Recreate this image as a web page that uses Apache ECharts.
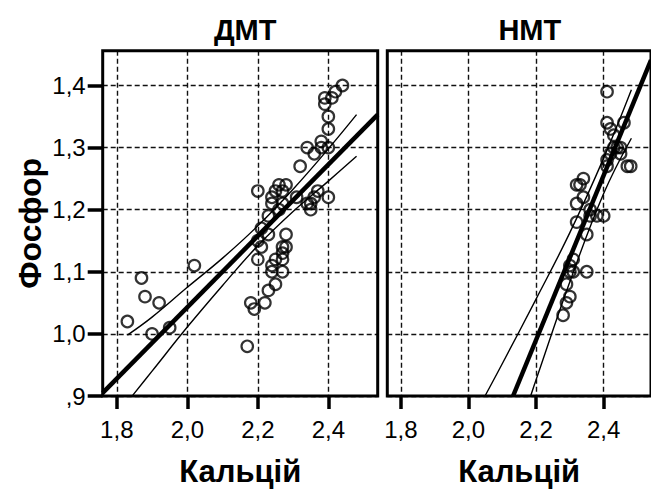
<!DOCTYPE html>
<html><head><meta charset="utf-8">
<script src="https://cdn.jsdelivr.net/npm/echarts@6/dist/echarts.min.js"></script>
<style>html,body{margin:0;padding:0;background:#fff}#c{width:651px;height:492px}</style>
</head><body><div id="c"></div>
<script>
// ---- data ----
const panelTitles = ['ДМТ', 'НМТ'];
const xName = 'Кальцій';
const yName = 'Фосфор';
const xTicks = [1.8, 2.0, 2.2, 2.4];
const yTicks = [0.9, 1.0, 1.1, 1.2, 1.3, 1.4];

// ДМТ scatter
const dmtCa = [1.83,1.87,1.88,1.92,1.90,1.95,2.02,2.17,2.18,2.19,2.22,2.23,2.25,2.24,2.27,2.24,2.25,2.27,2.20,2.27,2.28,2.27,2.28,2.21,2.20,2.23,2.21,2.23,2.24,2.20,2.24,2.25,2.26,2.28,2.27,2.27,2.26,2.31,2.32,2.34,2.36,2.34,2.35,2.36,2.37,2.40,2.38,2.38,2.40,2.40,2.40,2.39,2.39,2.41,2.42,2.44,2.35];
const dmtP  = [1.02,1.09,1.06,1.05,1.00,1.01,1.11,0.98,1.05,1.04,1.05,1.07,1.08,1.10,1.10,1.11,1.12,1.12,1.12,1.14,1.14,1.13,1.16,1.14,1.15,1.16,1.17,1.19,1.21,1.23,1.22,1.23,1.24,1.24,1.23,1.21,1.20,1.22,1.27,1.30,1.29,1.21,1.20,1.22,1.23,1.22,1.31,1.30,1.30,1.33,1.35,1.37,1.38,1.38,1.39,1.40,1.21];
// ДМТ regression line and confidence band
const dmtFitX = [1.76, 2.54];
const dmtFitY = [0.905, 1.353];
const dmtUpX = [1.83, 1.9, 2.0, 2.1, 2.2, 2.3, 2.4, 2.48];
const dmtUpY = [0.998, 1.027, 1.075, 1.122, 1.174, 1.233, 1.298, 1.353];
const dmtLoX = [1.845, 1.9, 2.0, 2.1, 2.2, 2.3, 2.4, 2.48];
const dmtLoY = [0.901, 0.940, 1.011, 1.078, 1.142, 1.197, 1.246, 1.286];

// НМТ scatter
const nmtCa = [2.41,2.41,2.42,2.43,2.46,2.43,2.44,2.45,2.45,2.42,2.41,2.41,2.47,2.48,2.34,2.32,2.33,2.34,2.32,2.36,2.36,2.38,2.40,2.32,2.35,2.31,2.30,2.31,2.35,2.29,2.30,2.29,2.28,2.30];
const nmtP  = [1.39,1.34,1.33,1.32,1.34,1.30,1.30,1.30,1.29,1.29,1.28,1.27,1.27,1.27,1.25,1.24,1.24,1.22,1.21,1.20,1.19,1.19,1.19,1.18,1.16,1.12,1.10,1.10,1.10,1.08,1.06,1.05,1.03,1.11];
// НМТ regression line and confidence band
const nmtFitX = [2.132, 2.54];
const nmtFitY = [0.900, 1.441];
const nmtUpX = [2.049, 2.1, 2.2, 2.3, 2.4, 2.482];
const nmtUpY = [0.900, 0.952, 1.056, 1.163, 1.283, 1.393];
const nmtLoX = [2.184, 2.2, 2.3, 2.4, 2.482];
const nmtLoY = [0.900, 0.926, 1.084, 1.226, 1.315];

// ---- chart ----
const zip = (a, b) => a.map((v, i) => [v, b[i]]);
const FONT = '"Liberation Sans", Arial, sans-serif';
const NFONT = '"Liberation Sans Narrow", "Arial Narrow", "Liberation Sans", Arial, sans-serif';
const fmt = v => { let s = (Math.round(v * 10) / 10).toFixed(1).replace('.', ','); if (s[0] === '0') s = s.slice(1); return s; };
const X_MIN = 1.76, X_MAX = 2.54, Y_MIN = 0.9, Y_MAX = 1.456;
const GT = 50.7, GH = 346.6, GW = 275;
const grids = [
  { left: 102.7, top: GT, width: GW, height: GH, show: true, borderColor: '#000', borderWidth: 3, backgroundColor: 'transparent', z: 5 },
  { left: 387.3, top: GT, width: GW, height: GH, show: true, borderColor: '#000', borderWidth: 3, backgroundColor: 'transparent', z: 5 }
];
const splitStyle = { type: [5, 3], color: '#111', width: 1.4 };
const xAxes = [0, 1].map(i => ({
  type: 'value', gridIndex: i, min: X_MIN, max: X_MAX,
  name: xName, nameLocation: 'middle', nameGap: 60,
  nameTextStyle: { fontFamily: FONT, fontSize: 31, fontWeight: 'bold', color: '#000' },
  axisLine: { show: false },
  axisTick: { show: true, customValues: xTicks, length: 13, lineStyle: { width: 3.5, color: '#000' } },
  axisLabel: { customValues: xTicks, formatter: fmt, fontFamily: NFONT, fontSize: 24, color: '#000', margin: 21 },
  splitLine: { show: true, customValues: xTicks, lineStyle: splitStyle }
}));
const yAxes = [0, 1].map(i => ({
  type: 'value', gridIndex: i, min: Y_MIN, max: Y_MAX,
  name: i === 0 ? yName : '', nameLocation: 'middle', nameGap: 57,
  nameTextStyle: { fontFamily: FONT, fontSize: 32, fontWeight: 'bold', color: '#000' },
  axisLine: { show: false },
  axisTick: { show: i === 0, customValues: yTicks, length: 15, lineStyle: { width: 3.5, color: '#000' } },
  axisLabel: { show: i === 0, customValues: yTicks, formatter: fmt, fontFamily: NFONT, fontSize: 24, color: '#000', margin: 17 },
  splitLine: { show: true, customValues: yTicks, lineStyle: splitStyle }
}));
const scatter = (i, xs, ys) => ({
  type: 'scatter', xAxisIndex: i, yAxisIndex: i, data: zip(xs, ys),
  symbol: 'circle', symbolSize: 11.5, silent: true, z: 3,
  itemStyle: { color: 'rgba(0,0,0,0)', borderColor: '#000', borderWidth: 2.2 }
});
const line = (i, xs, ys, w) => ({
  type: 'line', xAxisIndex: i, yAxisIndex: i, data: zip(xs, ys),
  showSymbol: false, symbol: 'none', smooth: xs.length > 2 ? 0.4 : false, silent: true, z: 4, clip: true,
  lineStyle: { color: '#000', width: w }
});
const option = {
  animation: false,
  backgroundColor: '#fff',
  title: [
    { text: panelTitles[0], left: 240.2, top: 10, textAlign: 'center', textStyle: { fontFamily: FONT, fontSize: 29, fontWeight: 'bold', color: '#000' } },
    { text: panelTitles[1], left: 524.8, top: 10, textAlign: 'center', textStyle: { fontFamily: FONT, fontSize: 29, fontWeight: 'bold', color: '#000' } }
  ],
  grid: grids, xAxis: xAxes, yAxis: yAxes,
  series: [
    scatter(0, dmtCa, dmtP),
    line(0, dmtFitX, dmtFitY, 4.5),
    line(0, dmtUpX, dmtUpY, 1.4),
    line(0, dmtLoX, dmtLoY, 1.4),
    scatter(1, nmtCa, nmtP),
    line(1, nmtFitX, nmtFitY, 4.5),
    line(1, nmtUpX, nmtUpY, 1.4),
    line(1, nmtLoX, nmtLoY, 1.4)
  ]
};
const chart = echarts.init(document.getElementById('c'), null, { renderer: 'svg' });
chart.setOption(option);
</script></body></html>
